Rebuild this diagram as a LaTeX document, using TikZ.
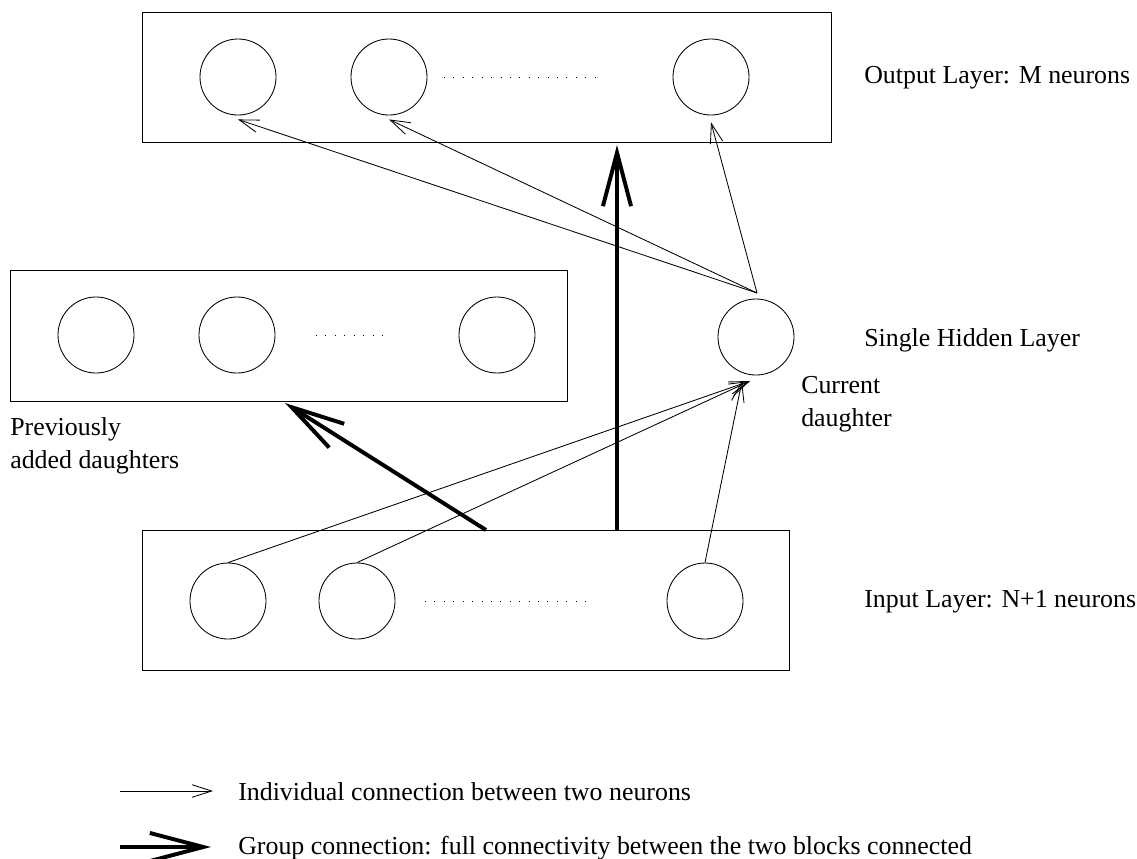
\documentclass[tikz,border=0pt]{standalone}
\usepackage{fontspec}
\setmainfont{Liberation Serif}
\usetikzlibrary{arrows.meta}
\begin{document}
\begin{tikzpicture}[
  x=0.025cm, y=-0.025cm,
  neuron/.style={circle, draw, line width=0.6pt, minimum size=1.9cm, inner sep=0pt},
  layer/.style={rectangle, draw, line width=0.6pt, inner sep=0pt},
  conn/.style={line width=0.6pt, -{Straight Barb[length=14pt, width=9pt]}},
  group/.style={line width=2.8pt, -{Straight Barb[length=38pt, width=20pt]}},
  dots/.style={line width=0.7pt, dash pattern=on 0.7pt off 6pt},
  label/.style={anchor=west, inner sep=0pt, align=left},
  font=\fontsize{18.4}{23.5}\selectfont
]
\useasboundingbox (0,0) rectangle (1137,858);

% Output layer
\node[layer, minimum width=17.2cm, minimum height=3.25cm] (outbox) at (487,77) {};
\node[neuron] (o1) at (238,77) {};
\node[neuron] (o2) at (389,77) {};
\node[neuron] (o3) at (711,77) {};
\draw[dots] (444,77) -- (595,77);
\node[label] (outtxt) at (864,78) {Output Layer: M neurons};

% Hidden layer
\node[layer, minimum width=13.925cm, minimum height=3.275cm] (hidbox) at (288.5,335.5) {};
\node[neuron] (h1) at (96,335) {};
\node[neuron] (h2) at (237,335) {};
\node[neuron] (h3) at (497,335) {};
\draw[dots] (316,335) -- (388,335);
\node[neuron] (cur) at (756,337) {};
\node[label] (hidtxt) at (864,340) {Single Hidden Layer};
\node[label] (prevtxt) at (10,446) {Previously\\added daughters};
\node[label] (curtxt) at (801,404) {Current\\daughter};

% Input layer
\node[layer, minimum width=16.15cm, minimum height=3.5cm] (inbox) at (466,600) {};
\node[neuron] (i1) at (228,601) {};
\node[neuron] (i2) at (357,601) {};
\node[neuron] (i3) at (705,601) {};
\draw[dots] (425,601) -- (592,601);
\node[label] (intxt) at (864,602) {Input Layer: N+1 neurons};

% Connection points
\coordinate (curin) at (750,381);
\coordinate (curout) at (757,293);
\coordinate (gin1) at (486,530);
\coordinate (gout1) at (285,403);
\coordinate (gin2) at (617,530);
\coordinate (gout2) at (617,145);

% Individual connections
\draw[conn] (i1.north) -- (curin);
\draw[conn] (i2.north) -- (curin);
\draw[conn] (i3.north) -- ([xshift=-0.2cm]curin);
\draw[conn] (curout) -- ([yshift=-0.1cm]o1.south);
\draw[conn] (curout) -- ([yshift=-0.1cm]o2.south);
\draw[conn] (curout) -- ([yshift=-0.17cm]o3.south);

% Group connections
\draw[group] (gin1) -- (gout1);
\draw[group] (gin2) -- (gout2);

% Legend
\coordinate (l1a) at (120,791);
\coordinate (l1b) at (213,791);
\coordinate (l2a) at (120,847);
\coordinate (l2b) at (211,847);
\draw[conn] (l1a) -- (l1b);
\draw[group] (l2a) -- (l2b);
\node[label] (leg1) at (238,792) {Individual connection between two neurons};
\node[label] (leg2) at (238,848) {Group connection: full connectivity between the two blocks connected};
\end{tikzpicture}
\end{document}
